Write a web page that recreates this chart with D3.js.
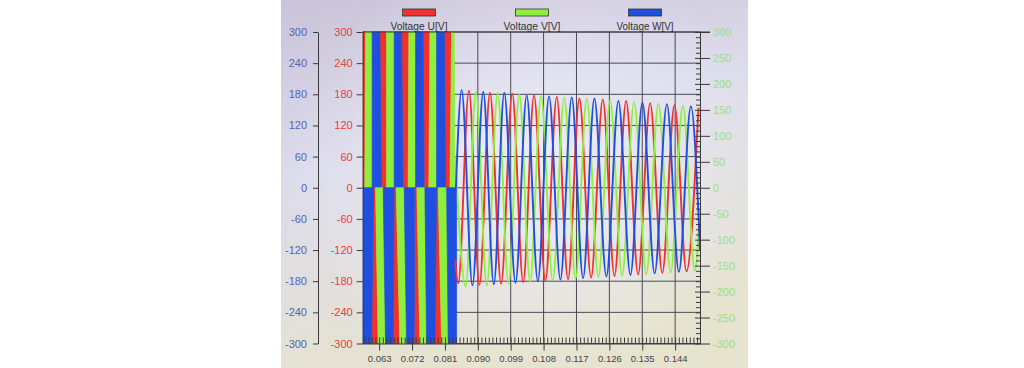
<!DOCTYPE html>
<html><head><meta charset="utf-8">
<script src="https://cdn.jsdelivr.net/npm/d3@7"></script>
<style>
html,body{margin:0;padding:0;background:#fff;}
svg{display:block;font-family:"Liberation Sans",Arial,sans-serif;}
</style></head><body>
<svg id="chart" width="1024" height="368"></svg>
<script>
// ---------- data ----------
const seriesNames = ["Voltage U[V]", "Voltage V[V]", "Voltage W[V]"];
const seriesColors = ["#f2302c", "#8ef03c", "#1f4fe0"];

const xTicks = [0.063, 0.072, 0.081, 0.090, 0.099, 0.108, 0.117, 0.126, 0.135, 0.144];
const xTickLabels = ["0.063", "0.072", "0.081", "0.090", "0.099", "0.108", "0.117", "0.126", "0.135", "0.144"];
const leftTicks = [300, 240, 180, 120, 60, 0, -60, -120, -180, -240, -300];
const leftTickLabels = ["300", "240", "180", "120", "60", "0", "-60", "-120", "-180", "-240", "-300"];
const rightTicks = [300, 250, 200, 150, 100, 50, 0, -50, -100, -150, -200, -250, -300];
const rightTickLabels = ["300", "250", "200", "150", "100", "50", "0", "-50", "-100", "-150", "-200", "-250", "-300"];

// PWM stripes (visible bands) : [start at ±300, end at ±300, start at 0, end at 0]  (seconds)
const pwmPosU = [[0.0585, 0.05927, 0.0585, 0.05908], [0.06319, 0.06503, 0.06366, 0.06503], [0.06914, 0.07114, 0.06957, 0.07094], [0.07505, 0.07689, 0.07533, 0.07661], [0.08081, 0.08283, 0.08119, 0.08237]];
const pwmPosV = [[0.05927, 0.06108, 0.05908, 0.06108], [0.06503, 0.06711, 0.06503, 0.06711], [0.07114, 0.07297, 0.07094, 0.07297], [0.07689, 0.07872, 0.07661, 0.07872], [0.08283, 0.08354, 0.08237, 0.08374]];
const pwmPosW = [[0.06108, 0.06319, 0.06108, 0.06366], [0.06711, 0.06914, 0.06711, 0.06957], [0.07297, 0.07505, 0.07297, 0.07533], [0.07872, 0.08081, 0.07872, 0.08119]];
const pwmNegU = [[0.06092, 0.06273, 0.06150, 0.06201], [0.06684, 0.06867, 0.06711, 0.06766], [0.07259, 0.07415, 0.07278, 0.07333], [0.07826, 0.08009, 0.07872, 0.07916]];
const pwmNegV = [[0.06273, 0.06475, 0.06201, 0.06410], [0.06867, 0.07051, 0.06766, 0.06985], [0.07415, 0.07598, 0.07333, 0.07552], [0.08009, 0.08190, 0.07916, 0.08146]];
const pwmNegW = [[0.0585, 0.06092, 0.0585, 0.06150], [0.06475, 0.06684, 0.06410, 0.06711], [0.07051, 0.07259, 0.06985, 0.07278], [0.07598, 0.07826, 0.07552, 0.07872], [0.08190, 0.08420, 0.08146, 0.08420]];

// sinusoidal part: extrema (seconds, volts)
const uTime = [0.0838, 0.08464, 0.08757, 0.09045, 0.09332, 0.09638, 0.09943, 0.10241, 0.10538, 0.10849, 0.11160, 0.11469, 0.11779, 0.12099, 0.12420, 0.12739, 0.13058, 0.13387, 0.13715, 0.14048, 0.14381, 0.14710, 0.15038];
const uVolt = [-140, -184, 187, -187, 183, -185, 181, -182, 178, -179, 175, -176, 172, -173, 170, -170, 167, -167, 163, -164, 159, -161, 154];
const vTime = [0.0838, 0.08667, 0.08949, 0.09246, 0.09543, 0.09839, 0.10135, 0.10432, 0.10729, 0.11049, 0.11368, 0.11675, 0.11981, 0.12300, 0.12620, 0.12948, 0.13277, 0.13610, 0.13943, 0.14277, 0.14611, 0.14940, 0.1508];
const vVolt = [60, -190, 185, -188, 183, -185, 179, -182, 176, -178, 174, -175, 172, -172, 168, -169, 165, -166, 162, -163, 158, -160, -40];
const wTime = [0.0838, 0.08557, 0.08853, 0.09149, 0.09437, 0.09724, 0.10031, 0.10338, 0.10643, 0.10949, 0.11260, 0.11570, 0.11880, 0.12190, 0.12518, 0.12847, 0.13176, 0.13504, 0.13839, 0.14173, 0.14502, 0.14830, 0.1508];
const wVolt = [-40, 188, -188, 185, -186, 183, -183, 178, -180, 176, -177, 174, -174, 172, -171, 167, -168, 164, -165, 161, -162, 157, -120];

// ---------- drawing ----------
const svg = d3.select("#chart");
const L = 362.7, R = 700, T = 32, B = 343.5;
const x = d3.scaleLinear().domain([0.0585, 0.1508]).range([L, R]);
const y = d3.scaleLinear().domain([-300, 300]).range([B, T]);

const defs = svg.append("defs");
const bg = defs.append("linearGradient").attr("id", "bg").attr("x1", 0).attr("y1", 0).attr("x2", 0.3).attr("y2", 1);
bg.append("stop").attr("offset", "0%").attr("stop-color", "#cac3d9");
bg.append("stop").attr("offset", "45%").attr("stop-color", "#dcdbeb");
bg.append("stop").attr("offset", "100%").attr("stop-color", "#e6e3cf");
const rg = defs.append("radialGradient").attr("id", "hl").attr("cx", 0.55).attr("cy", 0.45).attr("r", 0.55);
rg.append("stop").attr("offset", "0%").attr("stop-color", "#eeeef8").attr("stop-opacity", 0.9);
rg.append("stop").attr("offset", "100%").attr("stop-color", "#eeeef8").attr("stop-opacity", 0);
defs.append("clipPath").attr("id", "plotClip").append("rect")
  .attr("x", L).attr("y", T - 1).attr("width", R - L).attr("height", B - T + 2);

// photo background
svg.append("rect").attr("x", 281).attr("y", 0).attr("width", 467).attr("height", 368).attr("fill", "url(#bg)");
svg.append("rect").attr("x", 281).attr("y", 0).attr("width", 467).attr("height", 368).attr("fill", "url(#hl)");

// grid
const grid = svg.append("g").attr("stroke", "#4a4a55").attr("stroke-width", 1);
grid.selectAll("line.v").data(xTicks).join("line").attr("class", "v")
  .attr("x1", d => x(d)).attr("x2", d => x(d)).attr("y1", T).attr("y2", B);
grid.selectAll("line.h").data(leftTicks).join("line").attr("class", "h")
  .attr("x1", L).attr("x2", R).attr("y1", d => y(d)).attr("y2", d => y(d));

// PWM stripes
const plot = svg.append("g").attr("clip-path", "url(#plotClip)");
function stripes(data, color, sign) {
  const outer = sign * 300;
  plot.append("g").selectAll("path").data(data).join("path")
    .attr("d", d => d3.line()([[x(d[0]), y(outer)], [x(d[1]), y(outer)], [x(d[3]), y(0)], [x(d[2]), y(0)]]) + "Z")
    .attr("fill", color).attr("stroke", color).attr("stroke-width", 0.7);
}
stripes(pwmPosU, seriesColors[0], 1);
stripes(pwmPosV, seriesColors[1], 1);
stripes(pwmPosW, seriesColors[2], 1);
stripes(pwmNegU, seriesColors[0], -1);
stripes(pwmNegV, seriesColors[1], -1);
stripes(pwmNegW, seriesColors[2], -1);

// sine traces
const line = d3.line().x(d => x(d[0])).y(d => y(d[1])).curve(d3.curveMonotoneX);
const traces = [d3.zip(uTime, uVolt), d3.zip(vTime, vVolt), d3.zip(wTime, wVolt)];
plot.selectAll("path.trace").data(traces).join("path").attr("class", "trace")
  .attr("d", line).attr("fill", "none")
  .attr("stroke", (d, i) => seriesColors[i]).attr("stroke-width", 1.9);

// axes
function styleAxis(g, color, labelColor, fs) {
  g.selectAll("path.domain").attr("stroke", color);
  g.selectAll(".tick line").attr("stroke", color);
  g.selectAll(".tick text").attr("fill", labelColor).style("font-size", fs + "px")
    .style("font-family", '"Liberation Sans",Arial,sans-serif');
}
// blue left axis
const gBlue = svg.append("g").attr("transform", "translate(318,0)")
  .call(d3.axisLeft(y).tickValues(leftTicks).tickSize(5).tickPadding(6).tickSizeOuter(0)
    .tickFormat((d, i) => leftTickLabels[i]));
styleAxis(gBlue, "#3a3a3a", "#5563b8", 11);
// red left axis
const gRed = svg.append("g").attr("transform", `translate(${L},0)`)
  .call(d3.axisLeft(y).tickValues(leftTicks).tickSize(6).tickPadding(4).tickSizeOuter(0)
    .tickFormat((d, i) => leftTickLabels[i]));
styleAxis(gRed, "#3a3a3a", "#e8403c", 11);
// right green axis
const gRight = svg.append("g").attr("transform", `translate(${R},0)`)
  .call(d3.axisRight(y).tickValues(rightTicks).tickSize(10).tickPadding(3).tickSizeOuter(0)
    .tickFormat((d, i) => rightTickLabels[i]));
styleAxis(gRight, "#3a3a3a", "#9ee070", 11);
const gRightIn = svg.append("g").attr("transform", `translate(${R},0)`)
  .call(d3.axisLeft(y).tickValues(rightTicks).tickSize(5).tickFormat(""));
gRightIn.select("path.domain").remove();
styleAxis(gRightIn, "#3a3a3a", "#000", 1);
const gRightMinor = svg.append("g").attr("transform", `translate(${R},0)`)
  .call(d3.axisLeft(y).tickValues(d3.range(-290, 300, 10).filter(v => v % 50 !== 0)).tickSize(4).tickFormat(""));
gRightMinor.select("path.domain").remove();
styleAxis(gRightMinor, "#3a3a3a", "#000", 1);
// bottom axis
const gX = svg.append("g").attr("transform", `translate(0,${B})`)
  .call(d3.axisBottom(x).tickValues(xTicks).tickSize(7).tickPadding(5).tickSizeOuter(0)
    .tickFormat((d, i) => xTickLabels[i]));
styleAxis(gX, "#3a3a3a", "#444", 9.5);
const gXMinor = svg.append("g").attr("transform", `translate(0,${B})`)
  .call(d3.axisTop(x).tickValues(d3.range(59, 151, 1).map(v => v / 1000)).tickSize(6).tickFormat(""));
gXMinor.select("path.domain").remove();
styleAxis(gXMinor, "#3a3a3a", "#000", 1);
// top border extension
svg.append("line").attr("x1", L).attr("x2", R + 10).attr("y1", T).attr("y2", T).attr("stroke", "#3a3a3a");

// legend
const lx = d3.scalePoint().domain(seriesNames).range([419, 645]);
const leg = svg.append("g").selectAll("g").data(seriesNames).join("g")
  .attr("transform", d => `translate(${lx(d)},0)`);
leg.append("rect").attr("x", -16.5).attr("y", 9).attr("width", 33).attr("height", 7)
  .attr("fill", (d, i) => seriesColors[i]).attr("stroke", "#333").attr("stroke-width", 0.8);
leg.append("text").attr("y", 29.5).attr("text-anchor", "middle")
  .attr("fill", "#333").style("font-size", "11px")
  .attr("textLength", 57).attr("lengthAdjust", "spacingAndGlyphs")
  .text(d => d);
</script>
</body></html>
